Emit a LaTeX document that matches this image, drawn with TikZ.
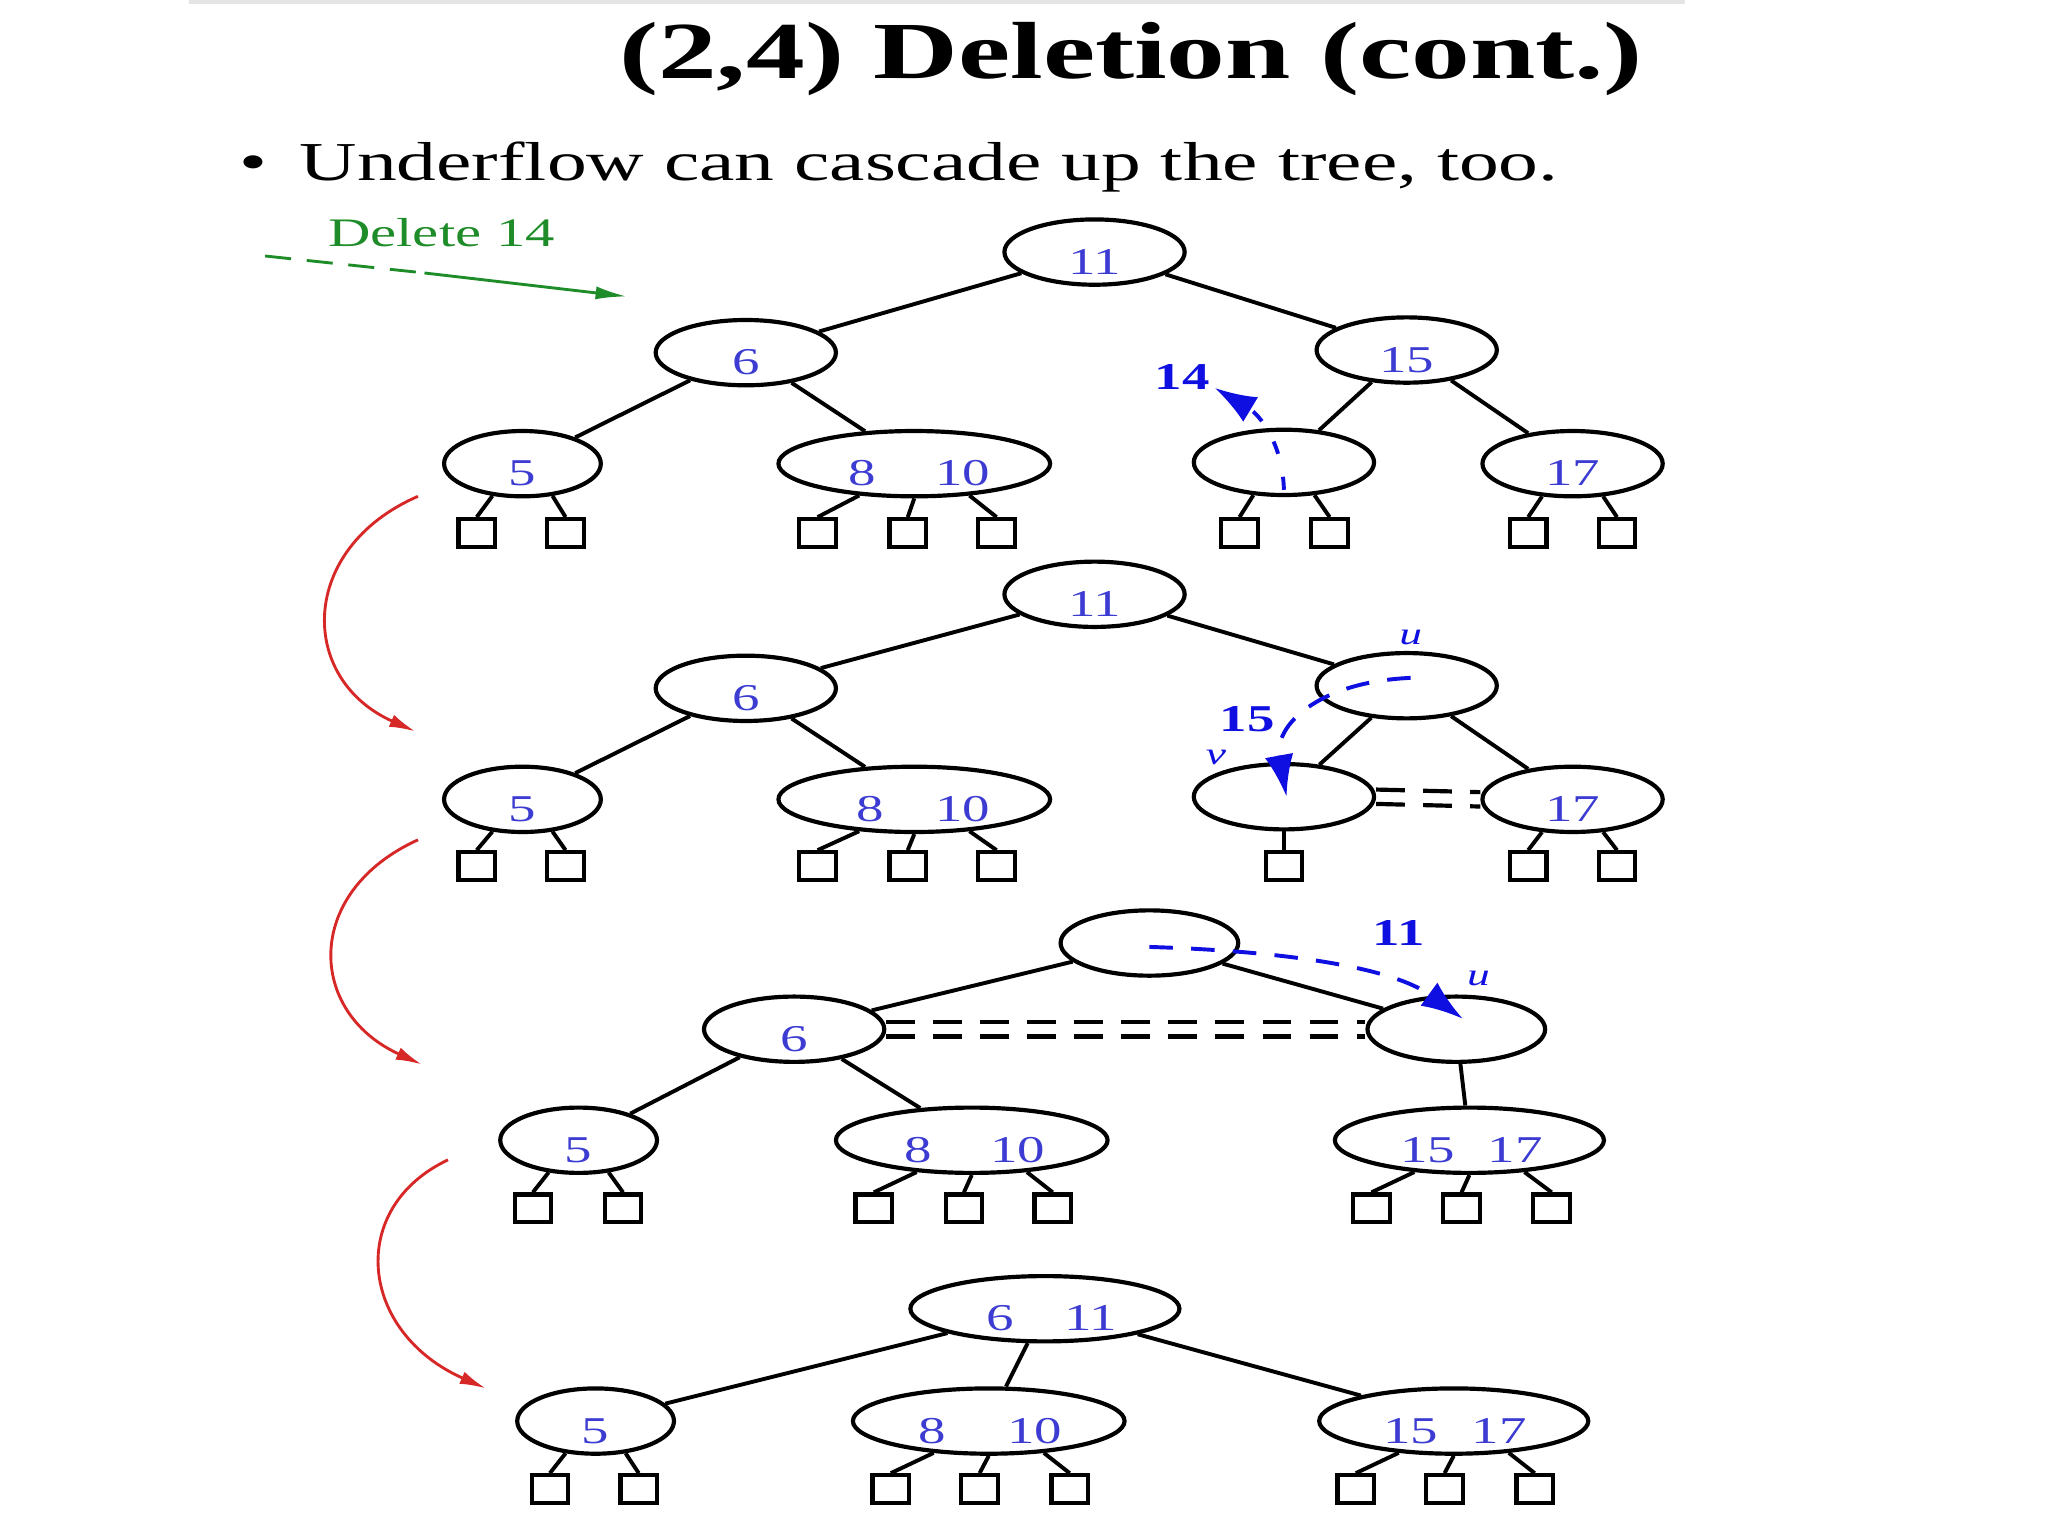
\documentclass[tikz,border=0pt]{standalone}
\usepackage{fontspec}
\setmainfont{Liberation Serif}
\usepackage{graphicx}
\usetikzlibrary{shapes.geometric,arrows.meta}
\definecolor{keyblue}{RGB}{60,60,210}
\definecolor{annblue}{RGB}{15,15,225}
\definecolor{arrred}{RGB}{215,40,40}
\definecolor{delgreen}{RGB}{30,140,40}
\newcommand{\sx}[1]{\scalebox{1.45}[1]{#1}}
\begin{document}
\begin{tikzpicture}[x=0.5pt,y=-0.5pt,
  knode/.style={draw,ellipse,line width=1.6pt,inner sep=0pt,minimum height=25pt},
  kone/.style={knode,minimum width=69pt},
  ksmall/.style={knode,minimum width=60pt},
  ktwo/.style={knode,minimum width=104pt},
  kleaf/.style={draw,line width=1.6pt,minimum width=14pt,minimum height=10.5pt,inner sep=0pt},
  ktext/.style={text=keyblue,font=\fontsize{14.5}{14.5}\selectfont,anchor=base,inner sep=0pt},
  kann/.style={text=annblue,font=\fontsize{14.5}{14.5}\selectfont\bfseries,inner sep=0pt},
  kital/.style={text=annblue,font=\fontsize{12}{12}\selectfont\itshape,inner sep=0pt},
  kedge/.style={line width=1.5pt},
  kmove/.style={annblue,line width=1.5pt,dash pattern=on 9pt off 7pt,-{Latex[length=16pt,width=11pt]}},
  kcurve/.style={arrred,line width=1.1pt,-{Latex[length=10pt,width=5pt]}},
  kdbl/.style={line width=1.6pt,dash pattern=on 11pt off 7pt}
]
\useasboundingbox (0,0) rectangle (1568,1176);
\fill[black!10] (145,0) rectangle (1290,3);

% title and bullet
\node[anchor=base,inner sep=0pt,font=\fontsize{31}{31}\selectfont\bfseries] (title) at (866,60) {\sx{(2,4) Deletion (cont.)}};
\node[anchor=base west,inner sep=0pt,font=\fontsize{21}{21}\selectfont] (bul) at (183,138) {\sx{•}};
\node[anchor=base west,inner sep=0pt,font=\fontsize{21}{21}\selectfont] (btext) at (229,138) {\sx{Underflow can cascade up the tree, too.}};

% delete 14
\node[anchor=base,inner sep=0pt,text=delgreen,font=\fontsize{15.5}{15.5}\selectfont] (del) at (338,189) {\sx{Delete 14}};
\coordinate (g0) at (203,196);
\coordinate (g1) at (325,209);
\coordinate (g2) at (480,227);
\draw[delgreen,line width=1.1pt,dash pattern=on 10pt off 6pt] (g0) -- (g1);
\draw[delgreen,line width=1.1pt,-{Latex[length=12pt,width=5pt]}] (g1) -- (g2);

% ---------------- tree 1
\node[kone] (a1) at (838,193) {};
\node[ktext] (a1t) at (838,210) {\sx{11}};
\node[kone] (b1) at (571,270) {};
\node[ktext] (b1t) at (571,287) {\sx{6}};
\node[kone] (c1) at (1077,268) {};
\node[ktext] (c1t) at (1077,285) {\sx{15}};
\node[ksmall] (d1) at (400,355) {};
\node[ktext] (d1t) at (400,372) {\sx{5}};
\node[ktwo] (e1) at (700,355) {};
\node[ktext] (e1t) at (660,372) {\sx{8}};
\node[ktext] (e1u) at (737,372) {\sx{10}};
\node[kone] (f1) at (983,354) {};
\node[kone] (g1n) at (1204,355) {};
\node[ktext] (g1t) at (1204,372) {\sx{17}};
\draw[kedge] (a1) -- (b1);
\draw[kedge] (a1) -- (c1);
\draw[kedge] (b1) -- (d1);
\draw[kedge] (b1) -- (e1);
\draw[kedge] (c1) -- (f1);
\draw[kedge] (c1) -- (g1n);
\node[kleaf] (l11) at (365,408) {};
\node[kleaf] (l12) at (433,408) {};
\node[kleaf] (l13) at (626,408) {};
\node[kleaf] (l14) at (695,408) {};
\node[kleaf] (l15) at (763,408) {};
\node[kleaf] (l16) at (949,408) {};
\node[kleaf] (l17) at (1018,408) {};
\node[kleaf] (l18) at (1170,408) {};
\node[kleaf] (l19) at (1238,408) {};
\draw[kedge] (d1.227) -- (l11.north);
\draw[kedge] (d1.313) -- (l12.north);
\draw[kedge] (e1.210) -- (l13.north);
\draw[kedge] (e1.270) -- (l14.north);
\draw[kedge] (e1.330) -- (l15.north);
\draw[kedge] (f1.227) -- (l16.north);
\draw[kedge] (f1.313) -- (l17.north);
\draw[kedge] (g1n.227) -- (l18.north);
\draw[kedge] (g1n.313) -- (l19.north);
\node[kann] (n14) at (905,289) {\sx{14}};
\coordinate (m1s) at (983,375);
\coordinate (m1e) at (930,297);
\draw[kmove,dash pattern=on 5pt off 9pt] (m1s) .. controls (982,340) and (965,318) .. (m1e);

% ---------------- tree 2
\node[kone] (a2) at (838,455) {};
\node[ktext] (a2t) at (838,472) {\sx{11}};
\node[kone] (b2) at (571,527) {};
\node[ktext] (b2t) at (571,544) {\sx{6}};
\node[kone] (c2) at (1077,525) {};
\node[ksmall] (d2) at (400,612) {};
\node[ktext] (d2t) at (400,629) {\sx{5}};
\node[ktwo] (e2) at (700,612) {};
\node[ktext] (e2t) at (666,629) {\sx{8}};
\node[ktext] (e2u) at (737,629) {\sx{10}};
\node[kone] (f2) at (983,610) {};
\node[kone] (g2n) at (1204,612) {};
\node[ktext] (g2t) at (1204,629) {\sx{17}};
\draw[kedge] (a2) -- (b2);
\draw[kedge] (a2) -- (c2);
\draw[kedge] (b2) -- (d2);
\draw[kedge] (b2) -- (e2);
\draw[kedge] (c2) -- (f2);
\draw[kedge] (c2) -- (g2n);
\node[kleaf] (l21) at (365,663) {};
\node[kleaf] (l22) at (433,663) {};
\node[kleaf] (l23) at (626,663) {};
\node[kleaf] (l24) at (695,663) {};
\node[kleaf] (l25) at (763,663) {};
\node[kleaf] (l26) at (983,663) {};
\node[kleaf] (l28) at (1170,663) {};
\node[kleaf] (l29) at (1238,663) {};
\draw[kedge] (d2.227) -- (l21.north);
\draw[kedge] (d2.313) -- (l22.north);
\draw[kedge] (e2.210) -- (l23.north);
\draw[kedge] (e2.270) -- (l24.north);
\draw[kedge] (e2.330) -- (l25.north);
\draw[kedge] (f2.270) -- (l26.north);
\draw[kedge] (g2n.227) -- (l28.north);
\draw[kedge] (g2n.313) -- (l29.north);
\draw[kdbl] ([yshift=2.75pt]f2.east) -- ([yshift=2.75pt]g2n.west);
\draw[kdbl] ([yshift=-2.75pt]f2.east) -- ([yshift=-2.75pt]g2n.west);
\node[kital] (u2) at (1080,488) {\sx{u}};
\node[kital] (v2) at (931,580) {\sx{v}};
\node[kann] (n15) at (955,551) {\sx{15}};
\coordinate (m2s) at (1080,519);
\coordinate (m2e) at (985,610);
\draw[kmove] (m2s) .. controls (1010,522) and (975,555) .. (m2e);

% ---------------- tree 3
\node[kone,minimum width=68pt] (a3) at (880,722) {};
\node[kone] (b3) at (608,788) {};
\node[ktext] (b3t) at (608,805) {\sx{6}};
\node[kone,minimum width=68pt] (c3) at (1115,788) {};
\node[ksmall] (d3) at (443,873) {};
\node[ktext] (d3t) at (443,890) {\sx{5}};
\node[ktwo] (e3) at (744,873) {};
\node[ktext] (e3t) at (703,890) {\sx{8}};
\node[ktext] (e3u) at (779,890) {\sx{10}};
\node[ktwo,minimum width=103pt] (h3) at (1125,873) {};
\node[ktext] (h3t) at (1093,890) {\sx{15}};
\node[ktext] (h3u) at (1160,890) {\sx{17}};
\draw[kedge] (a3) -- (b3);
\draw[kedge] (a3) -- (c3);
\draw[kedge] (b3) -- (d3);
\draw[kedge] (b3) -- (e3);
\draw[kedge] (c3) -- (h3);
\node[kleaf] (l31) at (408,925) {};
\node[kleaf] (l32) at (477,925) {};
\node[kleaf] (l33) at (669,925) {};
\node[kleaf] (l34) at (738,925) {};
\node[kleaf] (l35) at (806,925) {};
\node[kleaf] (l36) at (1050,925) {};
\node[kleaf] (l37) at (1119,925) {};
\node[kleaf] (l38) at (1188,925) {};
\draw[kedge] (d3.227) -- (l31.north);
\draw[kedge] (d3.313) -- (l32.north);
\draw[kedge] (e3.210) -- (l33.north);
\draw[kedge] (e3.270) -- (l34.north);
\draw[kedge] (e3.330) -- (l35.north);
\draw[kedge] (h3.210) -- (l36.north);
\draw[kedge] (h3.270) -- (l37.north);
\draw[kedge] (h3.330) -- (l38.north);
\draw[kdbl] ([yshift=2.75pt]b3.east) -- ([yshift=2.75pt]c3.west);
\draw[kdbl] ([yshift=-2.75pt]b3.east) -- ([yshift=-2.75pt]c3.west);
\node[kann] (n11) at (1071,714) {\sx{11}};
\node[kital] (u3) at (1132,749) {\sx{u}};
\coordinate (m3s) at (880,725);
\coordinate (m3e) at (1120,780);
\draw[kmove] (m3s) .. controls (980,728) and (1065,740) .. (m3e);

% ---------------- tree 4
\node[ktwo,minimum width=103pt] (a4) at (800,1002) {};
\node[ktext] (a4t) at (766,1019) {\sx{6}};
\node[ktext] (a4u) at (835,1019) {\sx{11}};
\node[ksmall] (d4) at (456,1088) {};
\node[ktext] (d4t) at (456,1105) {\sx{5}};
\node[ktwo] (e4) at (757,1088) {};
\node[ktext] (e4t) at (714,1105) {\sx{8}};
\node[ktext] (e4u) at (792,1105) {\sx{10}};
\node[ktwo,minimum width=103pt] (h4) at (1113,1088) {};
\node[ktext] (h4t) at (1080,1105) {\sx{15}};
\node[ktext] (h4u) at (1148,1105) {\sx{17}};
\draw[kedge] (a4) -- (d4);
\draw[kedge] (a4) -- (e4);
\draw[kedge] (a4) -- (h4);
\node[kleaf] (l41) at (421,1140) {};
\node[kleaf] (l42) at (489,1140) {};
\node[kleaf] (l43) at (682,1140) {};
\node[kleaf] (l44) at (750,1140) {};
\node[kleaf] (l45) at (819,1140) {};
\node[kleaf] (l46) at (1038,1140) {};
\node[kleaf] (l47) at (1106,1140) {};
\node[kleaf] (l48) at (1175,1140) {};
\draw[kedge] (d4.227) -- (l41.north);
\draw[kedge] (d4.313) -- (l42.north);
\draw[kedge] (e4.210) -- (l43.north);
\draw[kedge] (e4.270) -- (l44.north);
\draw[kedge] (e4.330) -- (l45.north);
\draw[kedge] (h4.210) -- (l46.north);
\draw[kedge] (h4.270) -- (l47.north);
\draw[kedge] (h4.330) -- (l48.north);

% red transition arrows
\coordinate (r1s) at (320,380);
\coordinate (r1e) at (318,560);
\coordinate (r2s) at (320,643);
\coordinate (r2e) at (323,815);
\coordinate (r3s) at (343,888);
\coordinate (r3e) at (372,1063);
\draw[kcurve] (r1s) .. controls (228,420) and (228,520) .. (r1e);
\draw[kcurve] (r2s) .. controls (232,683) and (235,775) .. (r2e);
\draw[kcurve] (r3s) .. controls (265,925) and (275,1020) .. (r3e);
\end{tikzpicture}
\end{document}
